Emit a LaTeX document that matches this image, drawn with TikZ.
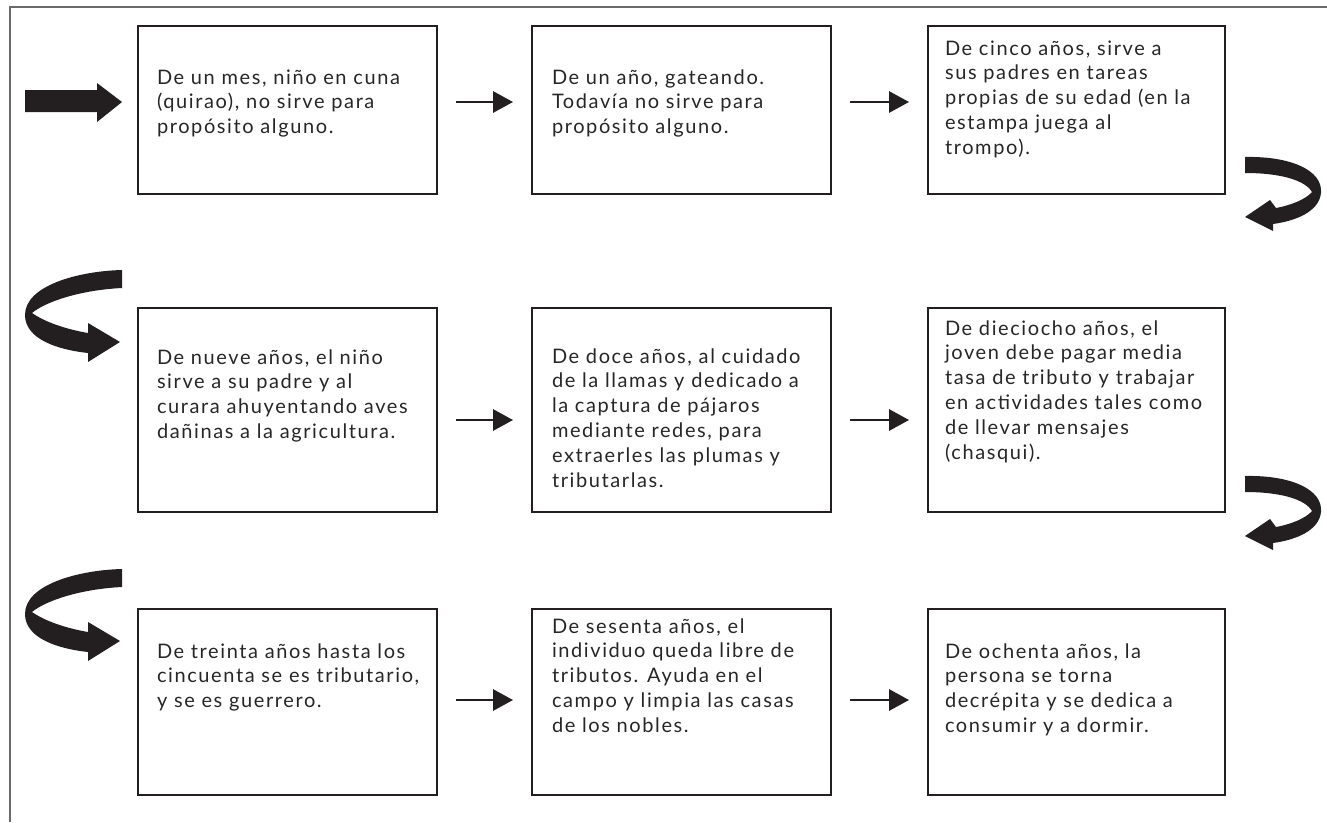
\documentclass[tikz,border=0pt]{standalone}
\usepackage{fontspec}
\setmainfont{Lato}[LetterSpace=8]
\usetikzlibrary{arrows.meta,fit}
\definecolor{ink}{HTML}{231F20}
\definecolor{txt}{HTML}{262626}
\definecolor{framec}{HTML}{6A6A6A}
\begin{document}
\begin{tikzpicture}[x=0.75pt,y=-0.75pt,
  box/.style={draw=ink, line width=1.5pt, inner sep=0pt, outer sep=0pt},
  lbl/.style={inner sep=0pt, outer sep=0pt, anchor=base west, text=txt,
    font=\fontsize{15}{18.6}\selectfont},
  flow/.style={draw=ink, line width=1.5pt, -{Triangle[length=15pt,width=16pt]},
    shorten <=14.25pt, shorten >=14.25pt},
  bigarrow/.style={fill=ink, draw=none}]
\useasboundingbox (0,0) rectangle (1327,822);
% outer frame
\draw[framec, line width=1pt] (10,822) -- (10,7) -- (1327,7);

% boxes
\node[box, fit={(138,26) (437,194)}] (b1) {};
\node[box, fit={(532,26) (831,194)}] (b2) {};
\node[box, fit={(928,26) (1225,194)}] (b3) {};
\node[box, fit={(138,308) (437,512)}] (b4) {};
\node[box, fit={(532,308) (831,512)}] (b5) {};
\node[box, fit={(928,308) (1225,512)}] (b6) {};
\node[box, fit={(138,609) (437,795)}] (b7) {};
\node[box, fit={(532,609) (831,795)}] (b8) {};
\node[box, fit={(928,609) (1225,795)}] (b9) {};

% texts
\node[lbl] (t1) at (157,84) {\parbox[t]{270pt}{De un mes, niño en cuna\\(quirao), no sirve para\\propósito alguno.}};
\node[lbl] (t2) at (552,84) {\parbox[t]{270pt}{De un año, gateando.\\Todavía no sirve para\\propósito alguno.}};
\node[lbl] (t3) at (945,55) {\parbox[t]{270pt}{De cinco años, sirve a\\sus padres en tareas\\propias de su edad (en la\\estampa juega al\\trompo).}};
\node[lbl] (t4) at (157,364) {\parbox[t]{270pt}{De nueve años, el niño\\sirve a su padre y al\\curara ahuyentando aves\\dañinas a la agricultura.}};
\node[lbl] (t5) at (552,363) {\parbox[t]{270pt}{De doce años, al cuidado\\de la llamas y dedicado a\\la captura de pájaros\\mediante redes, para\\extraerles las plumas y\\tributarlas.}};
\node[lbl] (t6) at (945,335) {\parbox[t]{270pt}{De dieciocho años, el\\joven debe pagar media\\tasa de tributo y trabajar\\en actividades tales como\\de llevar mensajes\\(chasqui).}};
\node[lbl] (t7) at (157,658) {\parbox[t]{270pt}{De treinta años hasta los\\cincuenta se es tributario,\\y se es guerrero.}};
\node[lbl] (t8) at (552,633) {\parbox[t]{270pt}{De sesenta años, el\\individuo queda libre de\\tributos. Ayuda en el\\campo y limpia las casas\\de los nobles.}};
\node[lbl] (t9) at (945,658) {\parbox[t]{270pt}{De ochenta años, la\\persona se torna\\decrépita y se dedica a\\consumir y a dormir.}};

% thin connectors
\draw[flow] ([yshift=6pt]b1.east) -- ([yshift=6pt]b2.west);
\draw[flow] ([yshift=6pt]b2.east) -- ([yshift=6pt]b3.west);
\draw[flow] ([yshift=-7.5pt]b4.east) -- ([yshift=-7.5pt]b5.west);
\draw[flow] ([yshift=-7.5pt]b5.east) -- ([yshift=-7.5pt]b6.west);
\draw[flow] ([yshift=1.5pt]b7.east) -- ([yshift=1.5pt]b8.west);
\draw[flow] ([yshift=1.5pt]b8.east) -- ([yshift=1.5pt]b9.west);

% big entry arrow
\fill[bigarrow] (25,90) -- (97,90) -- (97,83) -- (122,102) -- (97,122) -- (97,112) -- (25,112) -- cycle;

% right-hand U-turn arrows
\foreach \dy in {0,319}{
\begin{scope}[shift={(0,\dy)}]
\fill[bigarrow] (1245,157) .. controls (1290,156) and (1323,170) .. (1321,193)
  .. controls (1319,212) and (1295,221) .. (1273,224) -- (1273,231) -- (1245,217)
  -- (1270,200) -- (1276,208) .. controls (1292,205) and (1306,199) .. (1312,192)
  .. controls (1305,180) and (1280,173) .. (1245,173) -- cycle;
\end{scope}}

% left-hand U-turn arrows
\foreach \dy in {0,299}{
\begin{scope}[shift={(0,\dy)}]
\fill[bigarrow] (122,270) .. controls (80,271) and (25,285) .. (25,315)
  .. controls (25,340) and (60,350) .. (88,353) -- (88,362) -- (120,342)
  -- (88,323) -- (88,333) .. controls (65,329) and (45,322) .. (32,313)
  .. controls (45,302) and (80,290) .. (122,288) -- cycle;
\end{scope}}
\end{tikzpicture}
\end{document}
